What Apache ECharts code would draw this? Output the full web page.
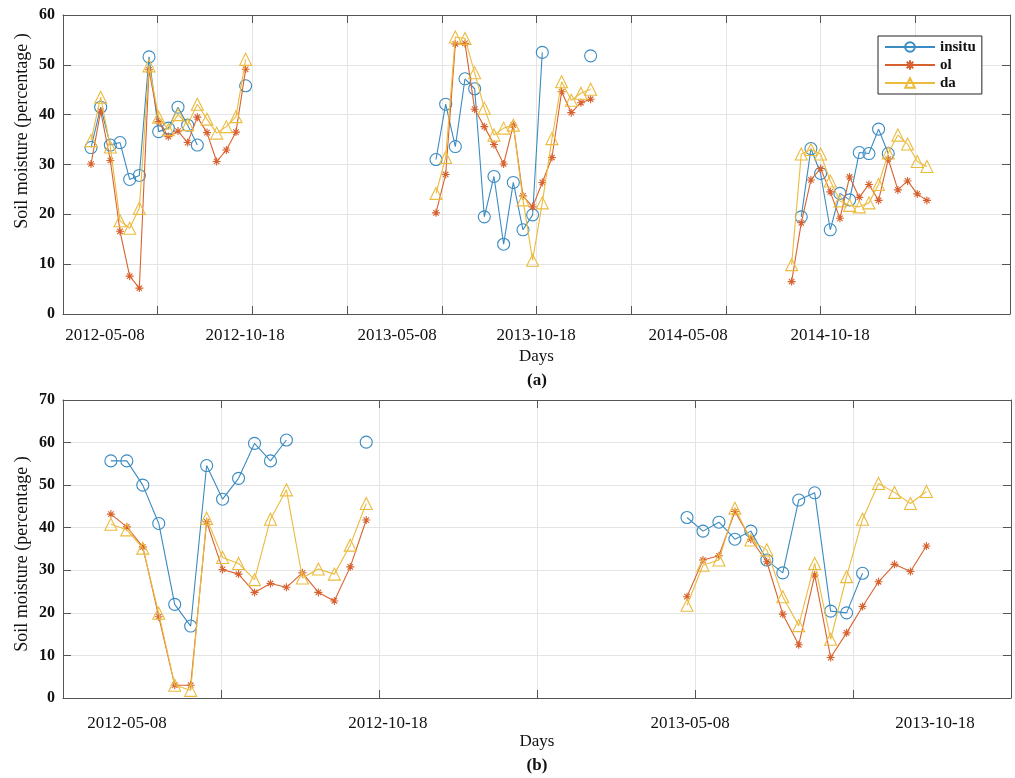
<!DOCTYPE html>
<html><head><meta charset="utf-8">
<script src="https://cdn.jsdelivr.net/npm/echarts@6/dist/echarts.min.js"></script>
<style>html,body{margin:0;padding:0;background:#fff}#c{width:1015px;height:778px}</style>
</head><body><div id="c"></div>
<script>
// ---------- data: panel (a) ----------
const aDays2012 = [29,39,49,59,69,79,89,99,109,119,129,139,149,159,169,179,189];
const aInsitu2012 = [33.4,41.5,33.9,34.4,27.0,27.8,51.6,36.6,37.3,41.5,37.9,33.9,null,null,null,null,45.8];
const aOl2012 = [30.1,40.7,30.8,16.6,7.6,5.2,49.0,38.6,35.6,36.7,34.4,39.5,36.4,30.6,32.9,36.5,49.1];
const aDa2012 = [34.8,43.5,33.5,18.7,17.2,21.2,49.8,39.5,37.0,40.0,38.0,42.1,39.1,36.3,37.6,39.6,51.1];

const aDays2013 = [386,396,406,416,426,436,446,456,466,476,486,496,506,516,526,536,546];
const aInsitu2013 = [31.0,42.1,33.6,47.2,45.2,19.5,27.6,14.0,26.4,16.9,19.9,52.5,null,null,null,null,51.8];
const aOl2013 = [20.3,28.0,54.2,54.3,41.1,37.6,34.0,30.1,37.9,23.7,21.5,26.4,31.4,44.6,40.4,42.4,43.1];
const aDa2013 = [24.2,31.4,55.6,55.3,48.4,41.3,35.9,37.3,37.9,22.9,10.8,22.3,35.2,46.6,42.9,44.3,45.1];

const aDays2014 = [754,764,774,784,794,804,814,824,834,844,854,864,874,884,894];
const aInsitu2014 = [null,19.5,33.2,28.2,16.9,24.2,22.9,32.4,32.2,37.1,32.2,null,null,null,null];
const aOl2014 = [6.5,18.3,26.9,29.2,24.5,19.2,27.5,23.4,26.0,22.8,31.1,24.9,26.7,24.1,22.8];
const aDa2014 = [9.9,32.1,33.0,32.1,26.7,22.7,21.8,21.5,22.3,26.0,32.3,35.9,34.1,30.6,29.6];

const aTickDays = [43.5,188.4,345.8,489.6,646.9,793.8];
const aTickLabels = ['2012-05-08','2012-10-18','2013-05-08','2013-10-18','2014-05-08','2014-10-18'];

// ---------- data: panel (b) ----------
const bDays2012 = [30,40,50,60,70,80,90,100,110,120,130,140,150,160,170,180,190];
const bInsitu2012 = [55.7,55.7,50.0,41.0,22.0,16.9,54.6,46.7,51.6,59.8,55.7,60.6,null,null,null,null,60.1];
const bOl2012 = [43.2,40.2,35.5,19.1,3.0,3.0,41.4,30.2,29.1,24.8,26.9,26.0,29.4,24.8,22.8,30.8,41.8];
const bDa2012 = [40.8,39.5,35.2,19.9,3.0,1.8,42.2,33.0,31.6,27.8,42.0,48.9,28.2,30.3,29.1,35.9,45.7];

const bDays2013 = [391,401,411,421,431,441,451,461,471,481,491,501,511,521,531,541];
const bInsitu2013 = [42.4,39.2,41.3,37.3,39.2,32.4,29.4,46.5,48.2,20.4,20.0,29.3,null,null,null,null];
const bOl2013 = [23.8,32.4,33.4,43.8,37.3,32.0,19.7,12.5,28.9,9.5,15.3,21.5,27.3,31.4,29.7,35.7];
const bDa2013 = [21.8,31.2,32.4,44.6,37.1,34.8,23.8,17.0,31.6,13.8,28.5,42.0,50.4,48.3,45.7,48.5];

const bTickDays = [40.1,203.6,392.9,546.4];
const bTickLabels = ['2012-05-08','2012-10-18','2013-05-08','2013-10-18'];

const yTicksA = {min:0,max:60,interval:10};
const yTicksB = {min:0,max:70,interval:10};
// ---------------------------------------

const FONT = '"Liberation Serif","Times New Roman",serif';
const C_IN = '#3a8bc2', C_OL = '#d8622f', C_DA = '#ecbb3e';
const AXC = '#555555', GRIDC = '#e4e4e4';
const STAR = 'path://M5 0L5 10M0 5L10 5M1.6 1.6L8.4 8.4M8.4 1.6L1.6 8.4';

function mk(name, days, vals, g) {
  const sty = {
    insitu: {c:C_IN, sym:'circle', size:12, z:3},
    ol: {c:C_OL, sym:STAR, size:8, z:4},
    da: {c:C_DA, sym:'triangle', size:12, z:5}
  }[name];
  return {
    name, type:'line', xAxisIndex:g*2, yAxisIndex:g*2,
    data: days.map((d,i)=>[d, vals[i]]),
    symbol: sty.sym, symbolSize: sty.size, showSymbol:true, showAllSymbol:true,
    connectNulls:false, z: sty.z, animation:false,
    lineStyle:{color:sty.c, width:1.1},
    itemStyle:{color: name==='ol' ? sty.c : 'rgba(255,255,255,0)', borderColor:sty.c, borderWidth:1.1},
    emphasis:{disabled:true}
  };
}
function nearestLabel(vals, labels) {
  return v => { let bi=-1, bd=1e9; vals.forEach((x,i)=>{const d=Math.abs(x-v); if(d<bd){bd=d;bi=i;}}); return bd<0.01?labels[bi]:''; };
}
function xAxes(g, max, interval, tickVals, tickLabels, labelMargin, nameGap) {
  return [
    {type:'value', gridIndex:g, min:0, max, interval, position:'bottom',
     axisLine:{show:true, onZero:false, lineStyle:{color:AXC}},
     axisTick:{show:true, inside:true, length:8, lineStyle:{color:AXC}},
     splitLine:{show:true, lineStyle:{color:GRIDC, width:1}},
     axisLabel:{show:true, customValues:tickVals, formatter:nearestLabel(tickVals,tickLabels), margin:labelMargin,
                color:'#111', fontFamily:FONT, fontSize:17},
     name:'Days', nameLocation:'middle', nameGap, nameTextStyle:{color:'#111', fontFamily:FONT, fontSize:17}},
    {type:'value', gridIndex:g, min:0, max, interval, position:'top',
     axisLine:{show:true, onZero:false, lineStyle:{color:AXC}},
     axisTick:{show:true, inside:true, length:8, lineStyle:{color:AXC}},
     splitLine:{show:false}, axisLabel:{show:false}}
  ];
}
function yAxes(g, t) {
  return [
    {type:'value', gridIndex:g, min:t.min, max:t.max, interval:t.interval, position:'left',
     axisLine:{show:true, onZero:false, lineStyle:{color:AXC}},
     axisTick:{show:true, inside:true, length:8, lineStyle:{color:AXC}},
     splitLine:{show:true, lineStyle:{color:GRIDC, width:1}},
     axisLabel:{show:true, margin:8, color:'#111', fontFamily:FONT, fontSize:16, fontWeight:'bold'}},
    {type:'value', gridIndex:g, min:t.min, max:t.max, interval:t.interval, position:'right',
     axisLine:{show:true, onZero:false, lineStyle:{color:AXC}},
     axisTick:{show:true, inside:true, length:8, lineStyle:{color:AXC}},
     splitLine:{show:false}, axisLabel:{show:false}}
  ];
}

const chart = echarts.init(document.getElementById('c'), null, {renderer:'canvas'});
chart.setOption({
  animation:false,
  backgroundColor:'#ffffff',
  grid:[
    {left:63, top:15, right:5, bottom:464, containLabel:false},
    {left:63, top:400, right:4, bottom:80, containLabel:false}
  ],
  xAxis:[...xAxes(0,980,98,aTickDays,aTickLabels,13,34), ...xAxes(1,594,99,bTickDays,bTickLabels,17,34)],
  yAxis:[...yAxes(0,yTicksA), ...yAxes(1,yTicksB)],
  legend:{
    data:['insitu','ol','da'], orient:'vertical', left:878, top:36,
    itemWidth:50, itemHeight:12, itemGap:2, padding:[3,6,3,6],
    borderColor:'#222', borderWidth:1, backgroundColor:'#fff',
    textStyle:{fontFamily:FONT, fontSize:15, fontWeight:'bold', color:'#111', lineHeight:16},
    selectedMode:false
  },
  graphic:[
    {type:'text', x:22, y:131, rotation:Math.PI/2,
     style:{text:'Soil moisture (percentage )', fontFamily:FONT, fontSize:18, fill:'#111', textAlign:'center', textVerticalAlign:'middle'}},
    {type:'text', x:22, y:554, rotation:Math.PI/2,
     style:{text:'Soil moisture (percentage )', fontFamily:FONT, fontSize:18, fill:'#111', textAlign:'center', textVerticalAlign:'middle'}},
    {type:'text', x:537, y:381,
     style:{text:'(a)', fontFamily:FONT, fontSize:17, fontWeight:'bold', fill:'#111', textAlign:'center', textVerticalAlign:'middle'}},
    {type:'text', x:537, y:766,
     style:{text:'(b)', fontFamily:FONT, fontSize:17, fontWeight:'bold', fill:'#111', textAlign:'center', textVerticalAlign:'middle'}}
  ],
  series:[
    mk('insitu',aDays2012,aInsitu2012,0), mk('ol',aDays2012,aOl2012,0), mk('da',aDays2012,aDa2012,0),
    mk('insitu',aDays2013,aInsitu2013,0), mk('ol',aDays2013,aOl2013,0), mk('da',aDays2013,aDa2013,0),
    mk('insitu',aDays2014,aInsitu2014,0), mk('ol',aDays2014,aOl2014,0), mk('da',aDays2014,aDa2014,0),
    mk('insitu',bDays2012,bInsitu2012,1), mk('ol',bDays2012,bOl2012,1), mk('da',bDays2012,bDa2012,1),
    mk('insitu',bDays2013,bInsitu2013,1), mk('ol',bDays2013,bOl2013,1), mk('da',bDays2013,bDa2013,1)
  ]
});
</script></body></html>
